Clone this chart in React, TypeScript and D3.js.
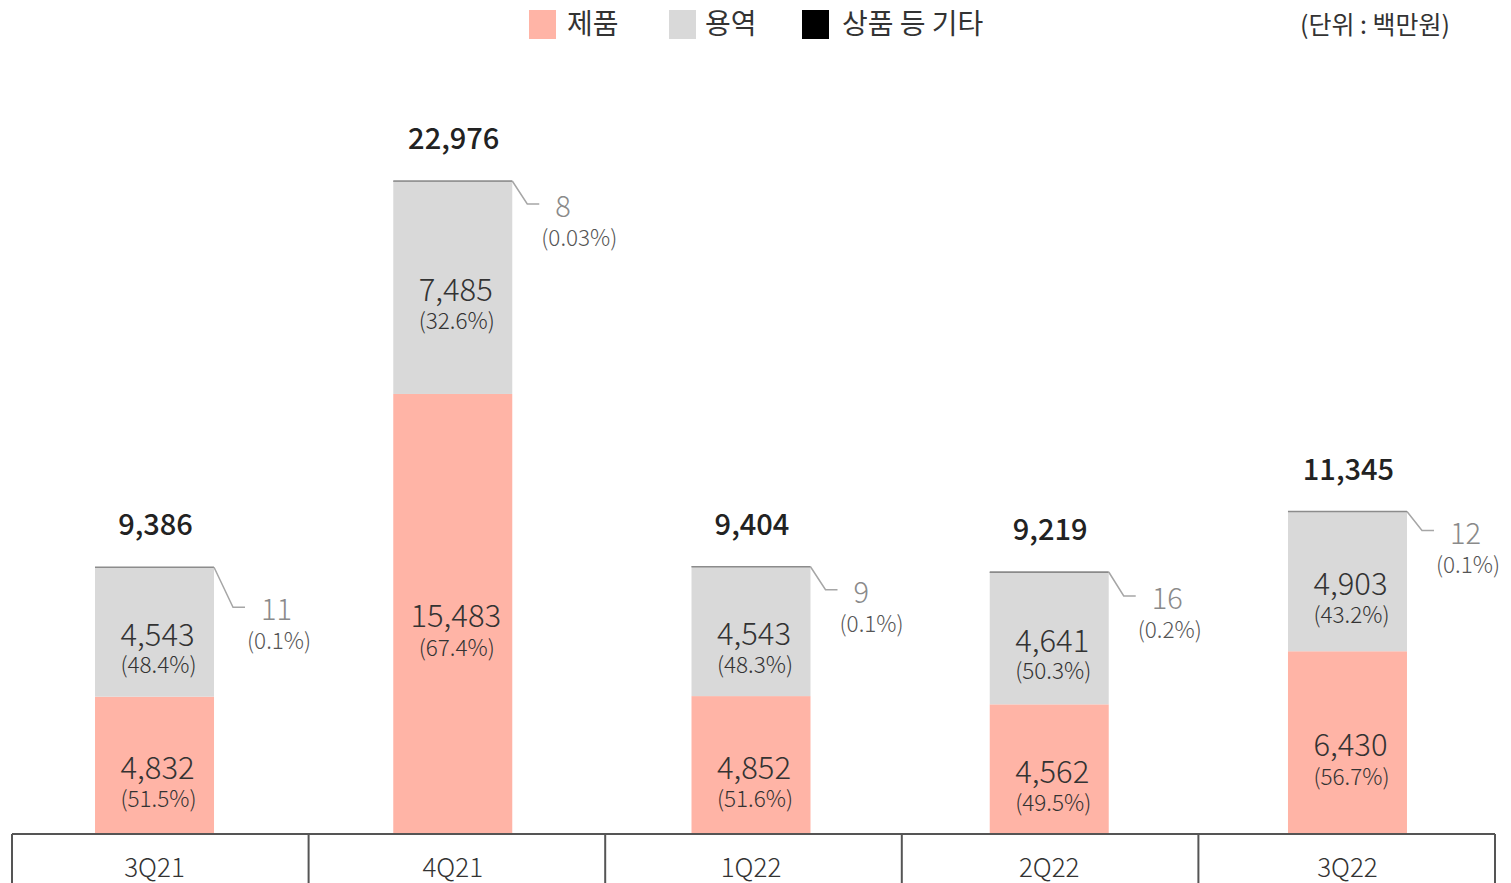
import React from "react";
import * as d3 from "d3";

const categories = ["3Q21", "4Q21", "1Q22", "2Q22", "3Q22"];
const productValues = [4832, 15483, 4852, 4562, 6430];
const productPct = ["51.5%", "67.4%", "51.6%", "49.5%", "56.7%"];
const serviceValues = [4543, 7485, 4543, 4641, 4903];
const servicePct = ["48.4%", "32.6%", "48.3%", "50.3%", "43.2%"];
const otherValues = [11, 8, 9, 16, 12];
const otherPct = ["0.1%", "0.03%", "0.1%", "0.2%", "0.1%"];
const totals = [9386, 22976, 9404, 9219, 11345];

const seriesNames = ["제품", "용역", "상품 등 기타"];
const seriesColors = ["#FFB4A6", "#D9D9D9", "#000000"];
const unitLabel = "(단위 : 백만원)";

// layout: vertical drop of each leader line (px)
const calloutDrop = [40, 23, 23, 24, 19];

const W = 1511;
const H = 883;
const FONT = "'Noto Sans CJK KR', 'Noto Sans', sans-serif";

export default function App() {
  const baseY = 834;
  const y = d3.scaleLinear().domain([0, d3.max(totals) as number]).range([baseY, 181]);
  const xBar = d3.scaleBand<string>().domain(categories).range([5.4, 1496.6]).padding(0);
  const xCell = d3.scaleBand<string>().domain(categories).range([12, 1495]).padding(0);
  const barW = 119;
  const fmt = d3.format(",");

  const stacks = categories.map((c, i) => {
    const p0 = 0, p1 = productValues[i];
    const s1 = p1 + serviceValues[i];
    const o1 = s1 + otherValues[i];
    return { c, i, p0, p1, s1, o1 };
  });

  const legendItems = [
    { x: 529, tx: 567 },
    { x: 669, tx: 705 },
    { x: 802, tx: 842 },
  ];

  return (
    <svg width={W} height={H} style={{ position: "absolute", left: 0, top: 0, background: "#fff" }} fontFamily={FONT}>
      {seriesNames.map((n, k) => (
        <g key={n}>
          <rect x={legendItems[k].x} y={10} width={27} height={29} fill={seriesColors[k]} />
          <text x={legendItems[k].tx} y={22} dominantBaseline="central" fontSize={28} fill="#333" fontWeight={400}>{n}</text>
        </g>
      ))}
      <text x={1450} y={23} textAnchor="end" dominantBaseline="central" fontSize={25} fill="#333">{unitLabel}</text>

      {stacks.map(({ c, i, p0, p1, s1, o1 }) => {
        const cx = (xBar(c) as number) + xBar.bandwidth() / 2;
        const x0 = cx - barW / 2;
        const x1 = cx + barW / 2;
        const topY = y(o1);
        const pMid = (y(p0) + y(p1)) / 2;
        const sMid = (y(p1) + y(s1)) / 2;
        const drop = calloutDrop[i];
        const lx1 = x1 + (drop > 30 ? 19 : 15), ly1 = topY + drop, lx2 = lx1 + 12;
        return (
          <g key={c}>
            <rect x={x0} y={y(p1)} width={barW} height={y(p0) - y(p1)} fill={seriesColors[0]} />
            <rect x={x0} y={y(s1)} width={barW} height={y(p1) - y(s1)} fill={seriesColors[1]} />
            <rect x={x0} y={y(o1)} width={barW} height={Math.max(0, y(s1) - y(o1))} fill={seriesColors[2]} />
            <line x1={x0} x2={x1} y1={topY} y2={topY} stroke="#8c8c8c" strokeWidth={1.5} />
            <polyline points={`${x1},${topY} ${lx1},${ly1} ${lx2},${ly1}`} fill="none" stroke="#a6a6a6" strokeWidth={1.5} />
            <text x={lx2 + 16} y={ly1} dominantBaseline="central" fontSize={29} fontWeight={300} fill="#8a8a8a">{fmt(otherValues[i])}</text>
            <text x={lx2 + 2} y={ly1 + 32} dominantBaseline="central" fontSize={22.5} fontWeight={300} fill="#555">({otherPct[i]})</text>

            <text x={cx + 3} y={sMid} textAnchor="middle" dominantBaseline="central" fontSize={31} fontWeight={300} fill="#333">{fmt(serviceValues[i])}</text>
            <text x={cx + 4} y={sMid + 31} textAnchor="middle" dominantBaseline="central" fontSize={22.5} fontWeight={300} fill="#333">({servicePct[i]})</text>
            <text x={cx + 3} y={pMid} textAnchor="middle" dominantBaseline="central" fontSize={31} fontWeight={300} fill="#333">{fmt(productValues[i])}</text>
            <text x={cx + 4} y={pMid + 32} textAnchor="middle" dominantBaseline="central" fontSize={22.5} fontWeight={300} fill="#333">({productPct[i]})</text>

            <text x={cx + 1} y={topY - 45} textAnchor="middle" dominantBaseline="central" fontSize={29} fontWeight={500} fill="#222">{fmt(totals[i])}</text>
            <text x={cx} y={865} textAnchor="middle" dominantBaseline="central" fontSize={26} fontWeight={300} fill="#333">{c}</text>
          </g>
        );
      })}

      <line x1={12} x2={1495} y1={baseY} y2={baseY} stroke="#555" strokeWidth={2} />
      {[...categories.map((c) => xCell(c) as number), xCell.range()[1]].map((xx, k) => (
        <line key={k} x1={xx} x2={xx} y1={baseY} y2={H} stroke="#555" strokeWidth={2} />
      ))}
    </svg>
  );
}
